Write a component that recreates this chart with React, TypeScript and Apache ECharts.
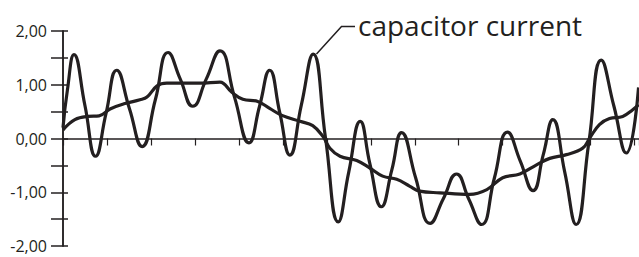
import React, { useEffect, useRef } from "react";
import * as echarts from "echarts";

// x positions in axis-tick units (ticks at 0..13)
const currentX = [0, 0.1, 0.25, 0.5, 0.74, 0.98, 1.22, 1.51, 1.8, 2.1, 2.39, 2.67, 2.95, 3.26, 3.57, 3.9, 4.23, 4.47, 4.7, 4.93, 5.16, 5.42, 5.69, 5.97, 6.26, 6.5, 6.76, 6.98, 7.24, 7.48, 7.7, 8.02, 8.35, 8.65, 8.95, 9.23, 9.52, 9.81, 10.11, 10.4, 10.69, 10.92, 11.14, 11.41, 11.67, 11.96, 12.24, 12.53, 12.81, 13.09];
const currentY = [0.2, 0.9, 1.56, 0.61, -0.33, 0.47, 1.27, 0.56, -0.15, 0.72, 1.6, 1.1, 0.6, 1.11, 1.63, 0.77, -0.08, 0.6, 1.27, 0.48, -0.31, 0.62, 1.57, 0.01, -1.55, -0.62, 0.32, -0.47, -1.27, -0.58, 0.11, -0.73, -1.58, -1.12, -0.66, -1.13, -1.6, -0.74, 0.12, -0.42, -0.97, -0.31, 0.35, -0.62, -1.6, -0.07, 1.46, 0.6, -0.27, 0.95];

const voltageX = [0, 0.27, 0.57, 0.82, 1.07, 1.41, 1.75, 1.91, 2.14, 2.36, 3.11, 3.57, 3.84, 4.09, 4.43, 4.7, 4.98, 5.39, 5.68, 5.91, 6.07, 6.3, 6.68, 6.98, 7.27, 7.59, 7.89, 8.11, 8.57, 9.25, 9.64, 10.0, 10.39, 10.77, 11.07, 11.45, 11.82, 11.98, 12.2, 12.43, 12.73, 12.95, 13.09];
const voltageY = [0.16, 0.35, 0.41, 0.42, 0.55, 0.65, 0.72, 0.77, 0.98, 1.03, 1.03, 1.05, 0.86, 0.73, 0.69, 0.56, 0.43, 0.32, 0.24, 0.04, -0.18, -0.33, -0.41, -0.55, -0.7, -0.76, -0.89, -0.98, -1.01, -1.04, -0.95, -0.73, -0.66, -0.49, -0.37, -0.3, -0.18, 0.01, 0.26, 0.37, 0.41, 0.53, 0.63];

const yTicks = [-2, -1.5, -1, -0.5, 0, 0.5, 1, 1.5, 2];
const annotation = "capacitor current";

const INK = "#231f20";

export default function App() {
  const ref = useRef<HTMLDivElement>(null);
  useEffect(() => {
    if (!ref.current) return;
    const chart = echarts.init(ref.current, undefined, { renderer: "svg" });
    const fmt = (v: number) =>
      Number.isInteger(v) ? v.toFixed(2).replace(".", ",") : "";
    const yBase = {
      type: "value" as const,
      min: yTicks[0],
      max: yTicks[yTicks.length - 1],
      interval: 0.5,
      position: "left" as const,
      splitLine: { show: false },
      axisLine: { show: true, onZero: false, lineStyle: { color: INK, width: 1.5 } },
    };
    chart.setOption({
      animation: false,
      grid: { left: 63, right: 0, top: 31, bottom: 11 },
      xAxis: {
        type: "value",
        min: 0,
        max: 13.1,
        interval: 1,
        axisLine: { show: true, onZero: true, lineStyle: { color: INK, width: 1.5 } },
        axisTick: { show: true, length: 7, lineStyle: { color: INK, width: 1.2 } },
        axisLabel: { show: false },
        splitLine: { show: false },
      },
      yAxis: [
        {
          ...yBase,
          axisTick: { show: true, length: 12, lineStyle: { color: INK, width: 1.5 } },
          axisLabel: {
            show: true,
            margin: 16,
            formatter: fmt,
            color: INK,
            fontFamily: "Open Sans",
            fontSize: 16,
            lineHeight: 14,
          },
        },
        {
          ...yBase,
          axisTick: { show: true, inside: true, length: 5, lineStyle: { color: INK, width: 1.5 } },
          axisLabel: { show: false },
        },
      ],
      series: [
        {
          type: "line",
          name: "voltage",
          data: voltageX.map((x, i) => [x, voltageY[i]]),
          smooth: 0.4,
          showSymbol: false,
          lineStyle: { color: INK, width: 3.2 },
          z: 3,
        },
        {
          type: "line",
          name: "capacitor current",
          data: currentX.map((x, i) => [x, currentY[i]]),
          smooth: 0.5,
          showSymbol: false,
          lineStyle: { color: INK, width: 3.2 },
          z: 4,
        },
      ],
      graphic: [
        {
          type: "polyline",
          shape: { points: [[316.5, 54], [341.5, 26.5], [355, 26.5]] },
          style: { stroke: INK, lineWidth: 1.5, fill: "none" },
          z: 10,
        },
        {
          type: "text",
          x: 358,
          y: 25,
          style: {
            text: annotation,
            font: "28px 'Open Sans'",
            fill: INK,
            verticalAlign: "middle",
          },
          z: 10,
        },
      ],
    });
    return () => chart.dispose();
  }, []);
  return (
    <div
      ref={ref}
      style={{ position: "fixed", left: 0, top: 0, width: 639, height: 257, background: "#fff" }}
    />
  );
}
